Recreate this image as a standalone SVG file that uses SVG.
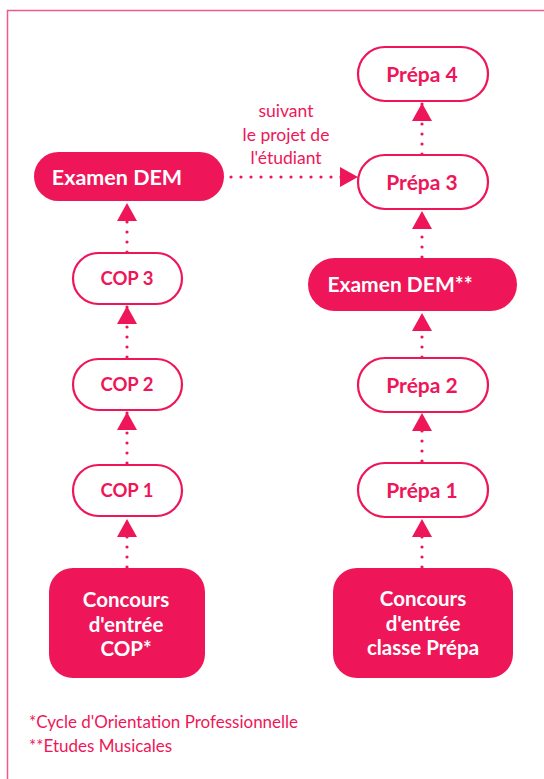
<svg xmlns="http://www.w3.org/2000/svg" width="544" height="779" viewBox="0 0 544 779">
<defs>
<style>
.frame{fill:none;stroke:#F0598A;stroke-width:1.5}
.filled{fill:#EE1659}
.outl{fill:#fff;stroke:#EE1659;stroke-width:2.2}
.wt{fill:#fff;font-family:Lato,"Liberation Sans",sans-serif;font-weight:bold;text-anchor:middle}
.pt{fill:#EE1659;font-family:Lato,"Liberation Sans",sans-serif;font-weight:bold;text-anchor:middle}
.lbl{fill:#EE1659;font-family:Lato,"Liberation Sans",sans-serif;font-size:17.5px;text-anchor:middle}
.note{fill:#EE1659;font-family:Lato,"Liberation Sans",sans-serif;font-size:17px}
.conn{fill:none;stroke:#EE1659;stroke-width:3.2;stroke-linecap:round;stroke-dasharray:0 10}
</style>
<marker id="ah" viewBox="0 0 18 20" refX="18" refY="10" markerWidth="18" markerHeight="20" orient="auto" markerUnits="userSpaceOnUse">
<path d="M0,0 L18,10 L0,20 z" fill="#EE1659"/>
</marker>
</defs>
<rect width="544" height="779" fill="#fff"/>
<path class="frame" d="M7.5,779 V10.5 H544"/>

<g id="connectors">
<line class="conn" x1="127" y1="567" x2="127" y2="519" marker-end="url(#ah)"/>
<line class="conn" x1="127" y1="463" x2="127" y2="412" marker-end="url(#ah)"/>
<line class="conn" x1="127" y1="357" x2="127" y2="306" marker-end="url(#ah)"/>
<line class="conn" x1="127" y1="252" x2="127" y2="203" marker-end="url(#ah)"/>
<line class="conn" x1="422" y1="567" x2="422" y2="519" marker-end="url(#ah)"/>
<line class="conn" x1="422" y1="461" x2="422" y2="413" marker-end="url(#ah)"/>
<line class="conn" x1="422" y1="357" x2="422" y2="313" marker-end="url(#ah)"/>
<line class="conn" x1="422" y1="257" x2="422" y2="211" marker-end="url(#ah)"/>
<line class="conn" x1="422" y1="154" x2="422" y2="103" marker-end="url(#ah)"/>
<line class="conn" x1="231" y1="177" x2="358" y2="177" marker-end="url(#ah)"/>
</g>

<g id="label-projet">
<text class="lbl" x="286" y="117">suivant</text>
<text class="lbl" x="286" y="141">le projet de</text>
<text class="lbl" x="286" y="164">l'étudiant</text>
</g>

<g id="examen-dem">
<rect class="filled" x="34" y="152" width="190" height="49" rx="24.5"/>
<text class="wt" x="117" y="184.5" font-size="21.5">Examen DEM</text>
</g>
<g id="cop3">
<rect class="outl" x="73" y="253" width="109" height="51" rx="25.5"/>
<text class="pt" x="127" y="285" font-size="18.5">COP 3</text>
</g>
<g id="cop2">
<rect class="outl" x="73" y="359" width="109" height="51" rx="25.5"/>
<text class="pt" x="127" y="391" font-size="18.5">COP 2</text>
</g>
<g id="cop1">
<rect class="outl" x="73" y="465" width="109" height="51" rx="25.5"/>
<text class="pt" x="127" y="497" font-size="18.5">COP 1</text>
</g>
<g id="concours-cop">
<rect class="filled" x="49" y="568" width="156" height="110" rx="24"/>
<text class="wt" x="126" y="607" font-size="20.5">Concours</text>
<text class="wt" x="126" y="631.5" font-size="20.5">d'entrée</text>
<text class="wt" x="126" y="656" font-size="20.5">COP*</text>
</g>

<g id="prepa4">
<rect class="outl" x="358" y="47" width="130" height="54" rx="27"/>
<text class="pt" x="422" y="81.5" font-size="21">Prépa 4</text>
</g>
<g id="prepa3">
<rect class="outl" x="358" y="155" width="130" height="54" rx="27"/>
<text class="pt" x="422" y="189.5" font-size="21">Prépa 3</text>
</g>
<g id="examen-dem2">
<rect class="filled" x="308" y="258" width="209" height="53" rx="26.5"/>
<text class="wt" x="400" y="291.5" font-size="21">Examen DEM**</text>
</g>
<g id="prepa2">
<rect class="outl" x="358" y="358" width="130" height="54" rx="27"/>
<text class="pt" x="422" y="392.5" font-size="21">Prépa 2</text>
</g>
<g id="prepa1">
<rect class="outl" x="358" y="463" width="130" height="54" rx="27"/>
<text class="pt" x="422" y="497.5" font-size="21">Prépa 1</text>
</g>
<g id="concours-prepa">
<rect class="filled" x="333" y="568" width="180" height="110" rx="24"/>
<text class="wt" x="423" y="606" font-size="20.5">Concours</text>
<text class="wt" x="423" y="630.5" font-size="20.5">d'entrée</text>
<text class="wt" x="423" y="655" font-size="20.5">classe Prépa</text>
</g>

<g id="notes">
<text class="note" x="29" y="728">*Cycle d'Orientation Professionnelle</text>
<text class="note" x="29" y="752">**Etudes Musicales</text>
</g>
</svg>
